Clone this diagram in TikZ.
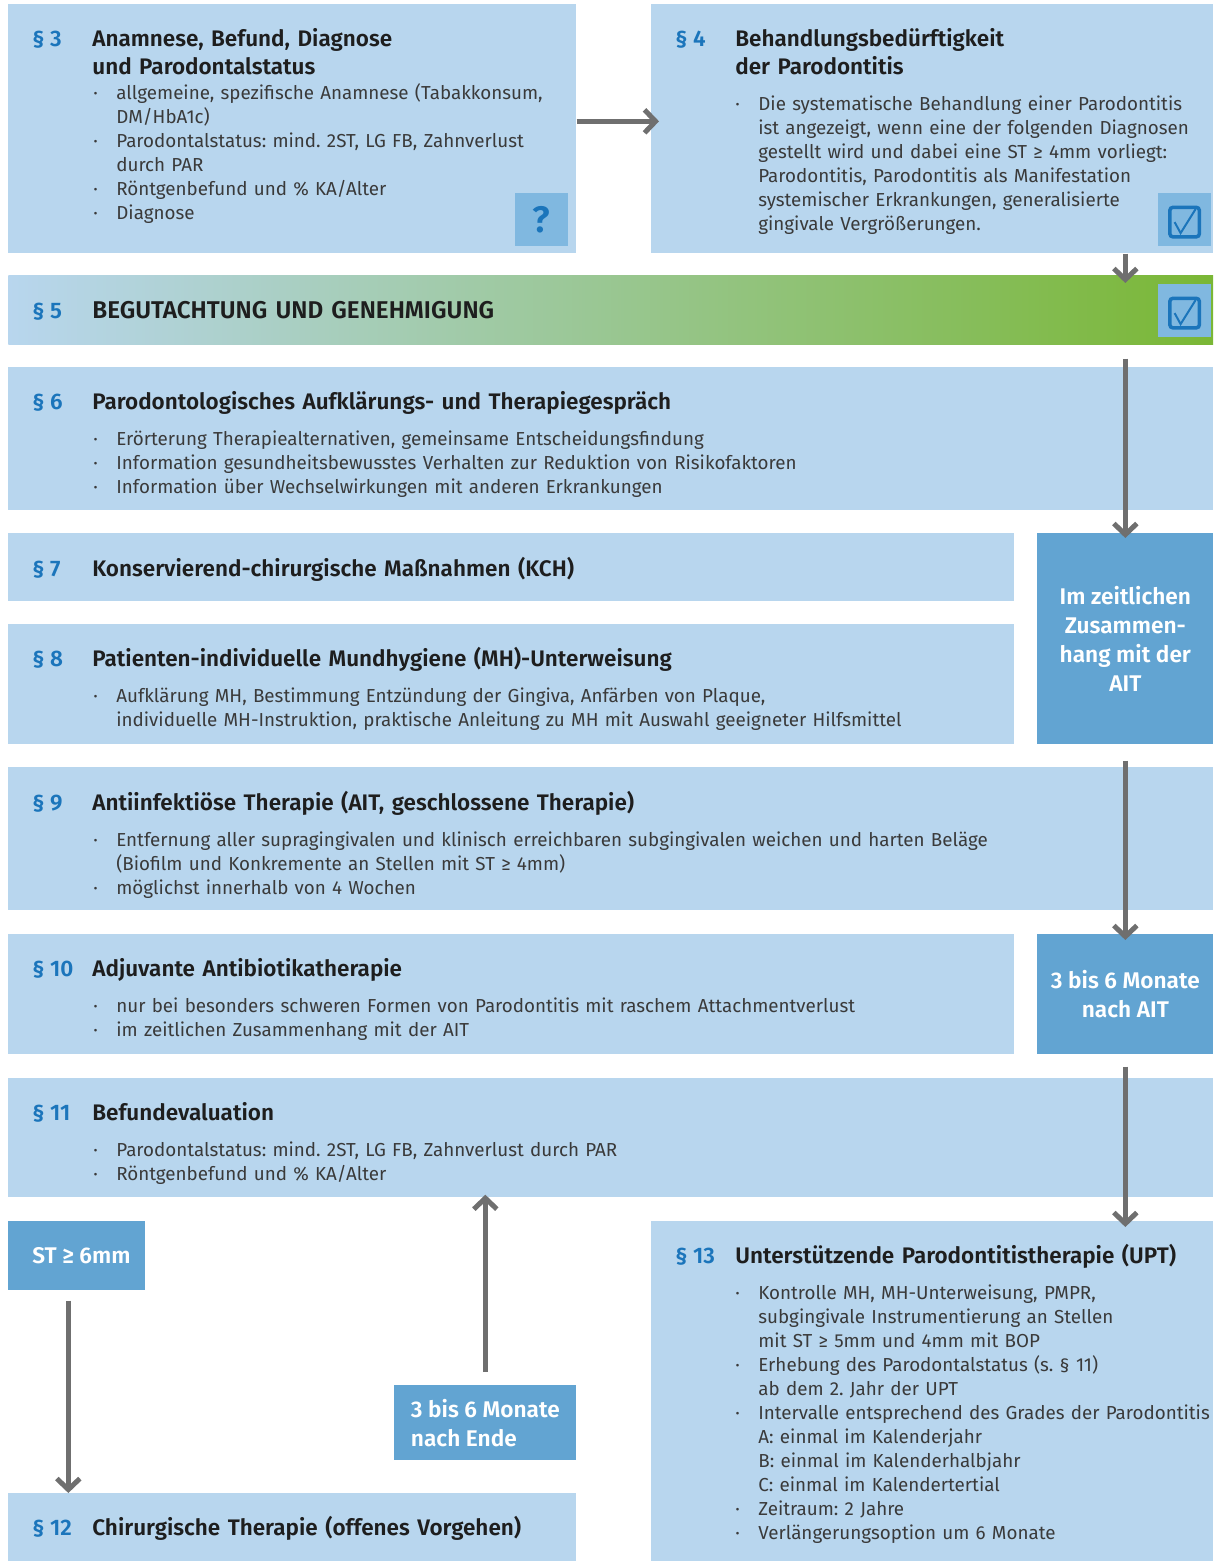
\documentclass[tikz,border=0pt]{standalone}
\usepackage{fontspec}
\setmainfont{Fira Sans}[BoldFont={Fira Sans SemiBold}]
\usetikzlibrary{arrows.meta}

\definecolor{boxblue}{HTML}{B8D6EE}
\definecolor{noteblue}{HTML}{62A4D2}
\definecolor{iconblue}{HTML}{80B8E0}
\definecolor{secblue}{HTML}{1B75BB}
\definecolor{arrowgrey}{HTML}{6F6F6F}
\definecolor{okgreen}{HTML}{7AB735}
\definecolor{titleblack}{HTML}{1E1E1E}
\definecolor{bodygrey}{HTML}{3A3A3A}

\newcommand\bul{\makebox[0.46cm][l]{·}}
\newcommand\cnt{\hspace*{0.46cm}}
\frenchspacing

\begin{document}
\begin{tikzpicture}[x=0.02cm,y=-0.02cm,
    box/.style={fill=boxblue,anchor=north west,inner sep=0pt},
    band/.style={left color=boxblue,right color=okgreen,anchor=north west,inner sep=0pt},
    note/.style={fill=noteblue,anchor=north west,inner sep=0pt,text=white,
      font=\bfseries\fontsize{12.9}{16.5}\selectfont},
    icon/.style={fill=iconblue,anchor=north west,inner sep=0pt,minimum size=1.05cm},
    okframe/.style={draw=secblue,line width=0.07cm,rounded corners=0.06cm,minimum size=0.59cm,inner sep=0pt},
    sec/.style={anchor=base west,inner sep=0pt,text=secblue,
      font=\bfseries\fontsize{12.8}{15.4}\selectfont},
    ttl/.style={anchor=base west,inner sep=0pt,align=left,text width=#1,text=titleblack,
      font=\bfseries\fontsize{12.8}{15.4}\selectfont},
    ttl/.default=18cm,
    body/.style={anchor=base west,inner sep=0pt,align=left,text width=#1,text=bodygrey,
      font=\fontsize{10.7}{13.66}\selectfont},
    body/.default=20cm,
    >={Straight Barb[length=0.22cm,width=0.46cm]}]

\useasboundingbox (0,0) rectangle (1213,1564);

% boxes
\path
  (8,4) node[box,minimum width=11.36cm,minimum height=4.98cm] (3) {}
  (651,4) node[box,minimum width=11.24cm,minimum height=4.98cm] (4) {}
  (8,275) node[band,minimum width=24.1cm,minimum height=1.38cm] (5) {}
  (8,367) node[box,minimum width=24.1cm,minimum height=2.86cm] (6) {}
  (8,533) node[box,minimum width=20.12cm,minimum height=1.36cm] (7) {}
  (8,624) node[box,minimum width=20.12cm,minimum height=2.4cm] (8) {}
  (8,767) node[box,minimum width=24.1cm,minimum height=2.86cm] (9) {}
  (8,934) node[box,minimum width=20.12cm,minimum height=2.4cm] (10) {}
  (8,1078) node[box,minimum width=24.1cm,minimum height=2.38cm] (11) {}
  (8,1493) node[box,minimum width=11.36cm,minimum height=1.36cm] (12) {}
  (651,1221) node[box,minimum width=11.24cm,minimum height=6.8cm] (13) {};

% side notes
\path
  (1037,533) node[note,align=center,minimum width=3.52cm,minimum height=4.22cm] (zeit)
    {Im zeitlichen\\Zusammen-\\hang mit der\\AIT}
  (1037,934) node[note,align=center,minimum width=3.52cm,minimum height=2.4cm] (ait)
    {3 bis 6 Monate\\nach AIT}
  (394,1385) node[note,align=left,minimum width=3.64cm,minimum height=1.5cm] (ende)
    {3 bis 6 Monate\\nach Ende}
  (8,1221) node[note,minimum width=2.74cm,minimum height=1.38cm] (st) {};
\node[note,anchor=base west,fill=none] (stl) at (32,1263) {ST ≥ 6mm};

% icons
\path
  (515,193) node[icon,text=secblue,font=\bfseries\fontsize{21}{21}\selectfont] (q3) {?}
  (1158,193) node[icon] (ok4) {}
  (1158,284) node[icon] (ok5) {};
\foreach \k in {ok4,ok5} {
  \node[okframe] (\k-box) at ([yshift=-0.05cm]\k.center) {};
  \draw[secblue,line width=0.04cm] ([shift={(-10,0)}]\k-box.center)
    -- ([shift={(-4,11)}]\k-box.center) -- ([shift={(11,-13)}]\k-box.center);
}

% texts
\node[sec] (3s) at (32,47) {§ 3};
\node[ttl=9.5cm] (3t) at (92,47) {Anamnese, Befund, Diagnose\\und Parodontalstatus};
\node[body=9.6cm] (3b) at (93,100) {\bul allgemeine, spezifische Anamnese (Tabakkonsum,\\\cnt DM/HbA1c)\\
  \bul Parodontalstatus: mind. 2ST, LG FB, Zahnverlust\\\cnt durch PAR\\
  \bul Röntgenbefund und \% KA/Alter\\\bul Diagnose};

\node[sec] (4s) at (675,47) {§ 4};
\node[ttl=9.5cm] (4t) at (735,47) {Behandlungsbedürftigkeit\\der Parodontitis};
\node[body=9.6cm] (4b) at (735,111) {\bul Die systematische Behandlung einer Parodontitis\\
  \cnt ist angezeigt, wenn eine der folgenden Diagnosen\\
  \cnt gestellt wird und dabei eine ST ≥ 4mm vorliegt:\\
  \cnt Parodontitis, Parodontitis als Manifestation\\
  \cnt systemischer Erkrankungen, generalisierte\\
  \cnt gingivale Vergrößerungen.};

\node[sec] (5s) at (32,318) {§ 5};
\node[ttl,font=\bfseries\fontsize{13.8}{15.4}\selectfont] (5t) at (92,318) {BEGUTACHTUNG UND GENEHMIGUNG};

\node[sec] (6s) at (32,409) {§ 6};
\node[ttl] (6t) at (92,409) {Parodontologisches Aufklärungs- und Therapiegespräch};
\node[body] (6b) at (93,445) {\bul Erörterung Therapiealternativen, gemeinsame Entscheidungsfindung\\
  \bul Information gesundheitsbewusstes Verhalten zur Reduktion von Risikofaktoren\\
  \bul Information über Wechselwirkungen mit anderen Erkrankungen};

\node[sec] (7s) at (32,576) {§ 7};
\node[ttl] (7t) at (92,576) {Konservierend-chirurgische Maßnahmen (KCH)};

\node[sec] (8s) at (32,666) {§ 8};
\node[ttl] (8t) at (92,666) {Patienten-individuelle Mundhygiene (MH)-Unterweisung};
\node[body=18.2cm] (8b) at (93,702) {\bul Aufklärung MH, Bestimmung Entzündung der Gingiva, Anfärben von Plaque,\\
  \cnt individuelle MH-Instruktion, praktische Anleitung zu MH mit Auswahl geeigneter Hilfsmittel};

\node[sec] (9s) at (32,810) {§ 9};
\node[ttl] (9t) at (92,810) {Antiinfektiöse Therapie (AIT, geschlossene Therapie)};
\node[body] (9b) at (93,846) {\bul Entfernung aller supragingivalen und klinisch erreichbaren subgingivalen weichen und harten Beläge\\
  \cnt (Biofilm und Konkremente an Stellen mit ST ≥ 4mm)\\
  \bul möglichst innerhalb von 4 Wochen};

\node[sec] (10s) at (32,976) {§ 10};
\node[ttl] (10t) at (92,976) {Adjuvante Antibiotikatherapie};
\node[body=18.2cm] (10b) at (93,1012) {\bul nur bei besonders schweren Formen von Parodontitis mit raschem Attachmentverlust\\
  \bul im zeitlichen Zusammenhang mit der AIT};

\node[sec] (11s) at (32,1120) {§ 11};
\node[ttl] (11t) at (92,1120) {Befundevaluation};
\node[body] (11b) at (93,1156) {\bul Parodontalstatus: mind. 2ST, LG FB, Zahnverlust durch PAR\\
  \bul Röntgenbefund und \% KA/Alter};

\node[sec] (12s) at (32,1535) {§ 12};
\node[ttl=9.5cm] (12t) at (92,1535) {Chirurgische Therapie (offenes Vorgehen)};

\node[sec] (13s) at (675,1263) {§ 13};
\node[ttl=9.5cm] (13t) at (735,1263) {Unterstützende Parodontitistherapie (UPT)};
\node[body=9.6cm] (13b) at (735,1299) {\bul Kontrolle MH, MH-Unterweisung, PMPR,\\
  \cnt subgingivale Instrumentierung an Stellen\\
  \cnt mit ST ≥ 5mm und 4mm mit BOP\\
  \bul Erhebung des Parodontalstatus (s. § 11)\\
  \cnt ab dem 2. Jahr der UPT\\
  \bul Intervalle entsprechend des Grades der Parodontitis\\
  \cnt A: einmal im Kalenderjahr\\
  \cnt B: einmal im Kalenderhalbjahr\\
  \cnt C: einmal im Kalendertertial\\
  \bul Zeitraum: 2 Jahre\\
  \bul Verlängerungsoption um 6 Monate};

% arrows
\coordinate (stx) at ([xshift=-0.17cm]st.south);
\begin{scope}[->,draw=arrowgrey,line width=0.1cm]
  \draw ([yshift=0.15cm]3.east) to ([yshift=0.15cm,xshift=0.16cm]4.west);
  \draw[shorten >=-0.16cm] (4.south -| zeit.north) to (5.north -| zeit.north);
  \draw[shorten <=0.28cm,shorten >=-0.1cm] (5.south -| zeit.north) to (zeit.north);
  \draw[shorten <=0.32cm,shorten >=-0.12cm] (zeit) to (ait);
  \draw[shorten <=0.24cm,shorten >=-0.12cm] (ait.south) to (ait.south |- 13.north);
  \draw[shorten <=0.2cm] (stx) to (stx |- 12.north);
  \draw[shorten <=0.26cm,shorten >=-0.06cm] (ende.north) to (ende.north |- 11.south);
\end{scope}
\end{tikzpicture}
\end{document}
